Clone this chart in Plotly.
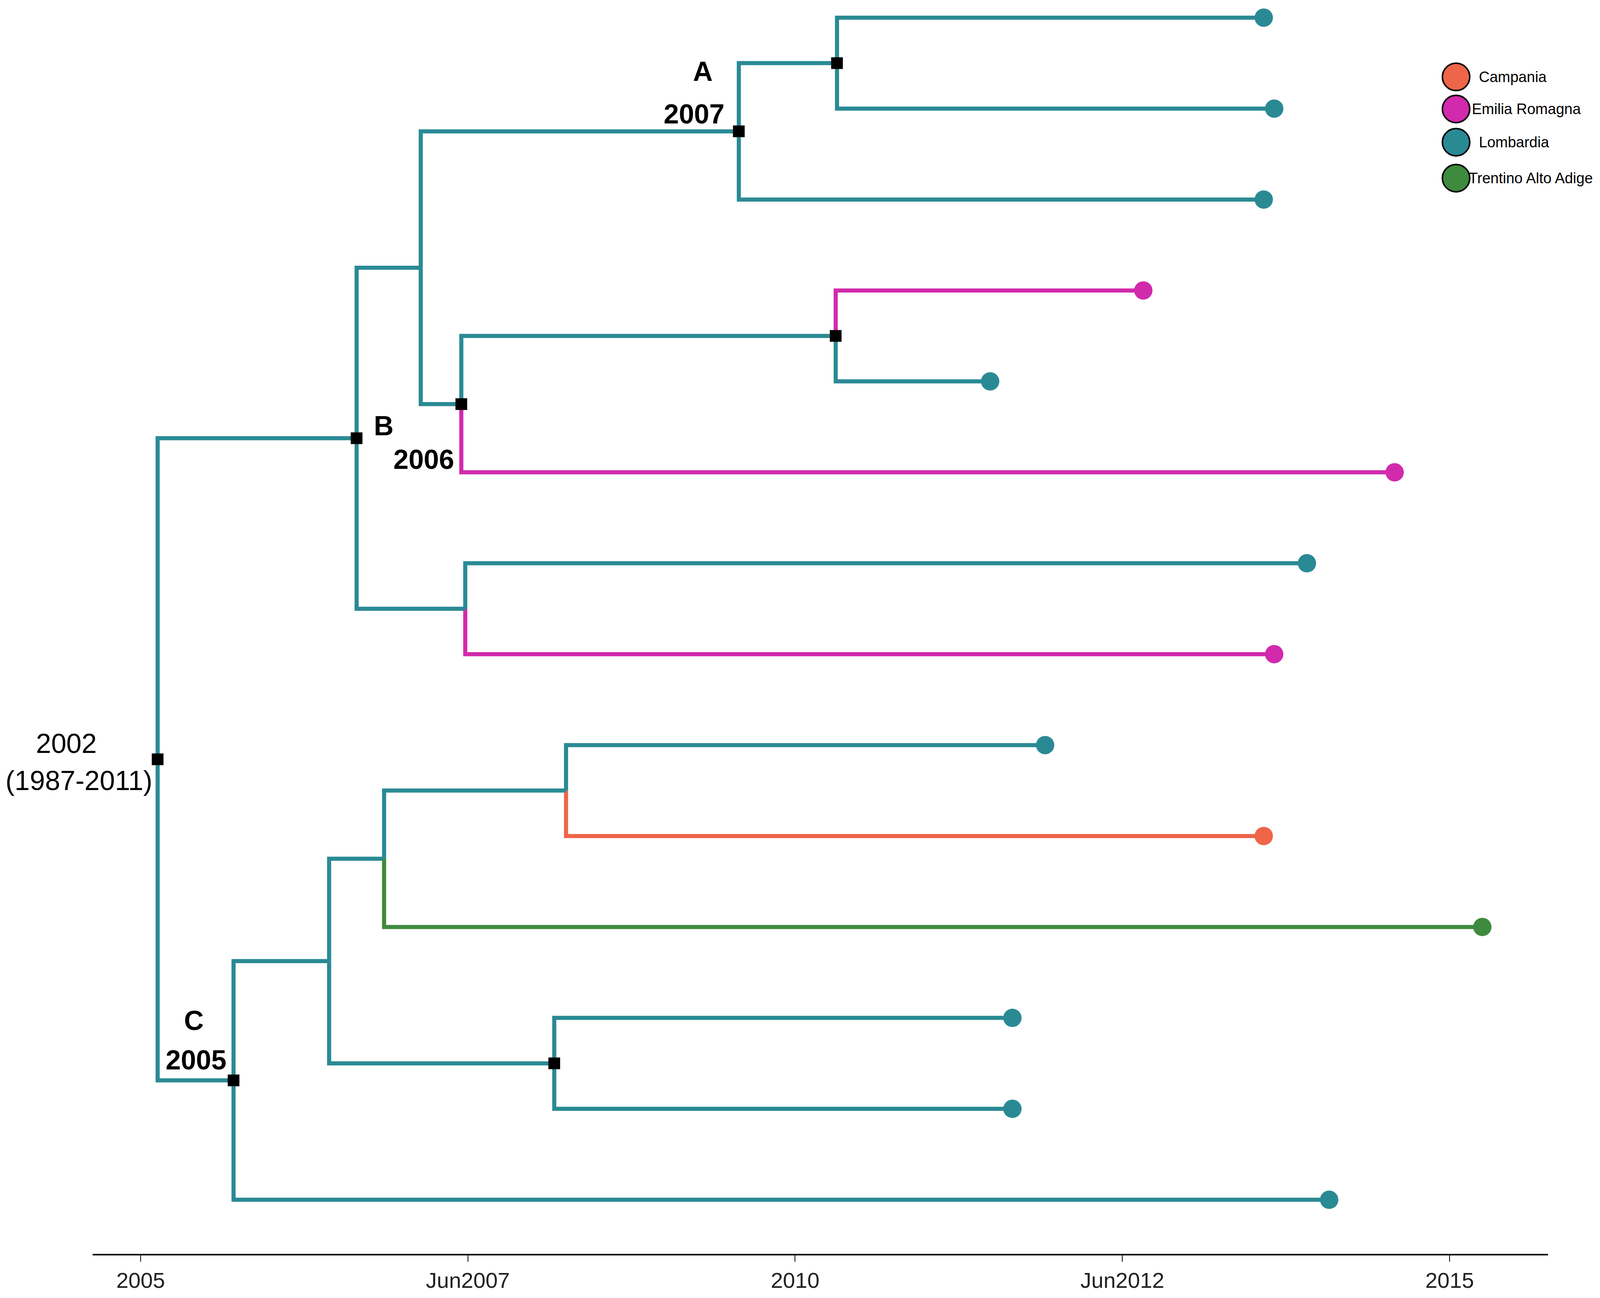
import plotly.graph_objects as go

# --- tips, top to bottom ---
tip_names = [f"t{i}" for i in range(1, 15)]
tip_dates = [2013.58, 2013.66, 2013.58, 2012.66, 2011.49, 2014.58, 2013.91,
             2013.66, 2011.91, 2013.58, 2015.25, 2011.66, 2011.66, 2014.08]
tip_regions = ["Lombardia", "Lombardia", "Lombardia", "Emilia Romagna", "Lombardia",
               "Emilia Romagna", "Lombardia", "Emilia Romagna", "Lombardia", "Campania",
               "Trentino Alto Adige", "Lombardia", "Lombardia", "Lombardia"]

# --- internal nodes (all inferred Lombardia) ---
node_names = ["root", "B", "n3", "A", "n5", "n6", "n7", "n8", "C", "n10", "n11", "n12", "n13"]
node_dates = [2005.13, 2006.65, 2007.14, 2009.57, 2010.32, 2007.45, 2010.31,
              2007.48, 2005.71, 2006.44, 2006.86, 2008.25, 2008.16]
node_children = [["B", "C"], ["n3", "n8"], ["A", "n6"], ["n5", "t3"], ["t1", "t2"],
                 ["n7", "t6"], ["t4", "t5"], ["t7", "t8"], ["n10", "t14"],
                 ["n11", "n13"], ["n12", "t11"], ["t9", "t10"], ["t12", "t13"]]
node_supported = [True, True, False, True, True, True, True, False, True,
                  False, False, False, True]

regions = ["Campania", "Emilia Romagna", "Lombardia", "Trentino Alto Adige"]
region_colors = ["#EE6548", "#D12AAC", "#2A8A94", "#3E8B3E"]

# node labels
label_nodes = ["root", "A", "B", "C"]
label_top = ["2002", "A", "B", "C"]
label_bottom = ["(1987-2011)", "2007", "2006", "2005"]

tick_vals = [2005, 2007.5, 2010, 2012.5, 2015]
tick_text = ["2005", "Jun2007", "2010", "Jun2012", "2015"]

color_of = dict(zip(regions, region_colors))

# page size (browser viewport is 4096 wide) and scale from the 4550x3322 reference
W, H = 4080, 3300
sx, sy = W / 4550, H / 3322
ml, mr, mt, mb = round(255 * sx), round(139 * sx), 0, round(85 * sy)
pw, ph = W - ml - mr, H - mt - mb

# ---- layout of the tree ----
date = dict(zip(tip_names, tip_dates))
date.update(zip(node_names, node_dates))
region = dict(zip(tip_names, tip_regions))
region.update({n: "Lombardia" for n in node_names})
kids = dict(zip(node_names, node_children))
ypos = {t: len(tip_names) - i for i, t in enumerate(tip_names)}


def get_y(n):
    if n not in ypos:
        ypos[n] = sum(get_y(c) for c in kids[n]) / len(kids[n])
    return ypos[n]


get_y("root")

seg = {r: ([], []) for r in regions}
for parent, children in kids.items():
    for c in children:
        xs, ys = seg[region[c]]
        xs += [date[parent], date[parent], date[c], None]
        ys += [ypos[parent], ypos[c], ypos[c], None]

fig = go.Figure()

for r in regions:
    xs, ys = seg[r]
    if xs:
        fig.add_trace(go.Scatter(x=xs, y=ys, mode="lines", showlegend=False,
                                 line=dict(color=color_of[r], width=10.5),
                                 hoverinfo="skip"))

sup = [n for n, s in zip(node_names, node_supported) if s]
fig.add_trace(go.Scatter(
    x=[date[n] for n in sup], y=[ypos[n] for n in sup], mode="markers",
    marker=dict(symbol="square", size=30, color="black"), showlegend=False))

fig.add_trace(go.Scatter(
    x=tip_dates, y=[ypos[t] for t in tip_names], mode="markers",
    marker=dict(size=47, color=[color_of[r] for r in tip_regions]), showlegend=False))

# ---- node labels (pixel offsets measured on the reference) ----
offsets = {
    "root": [(-261, 41), (-225, -55)],
    "A": [(-102, 154), (-128, 44)],
    "B": [(78, 32), (192, -55)],
    "C": [(-113, 154), (-107, 52)],
}
for n, top, bottom in zip(label_nodes, label_top, label_bottom):
    bold = n != "root"
    for txt, (dx, dy) in zip([top, bottom], offsets[n]):
        fig.add_annotation(
            x=date[n], y=ypos[n], text=f"<b>{txt}</b>" if bold else txt,
            showarrow=False, xshift=dx * sx, yshift=dy * sy,
            font=dict(size=70, color="black", family="Liberation Sans"))

# ---- legend drawn by hand (big keys) ----
key_x = 4148
key_y = [191, 274, 360, 453]
text_x = [4211, 4191, 4211, 4182]
for r, ky, tx in zip(regions, key_y, text_x):
    yp = 1 - (ky * sy - mt) / ph
    fig.add_shape(type="circle", xref="paper", yref="paper",
                  xsizemode="pixel", ysizemode="pixel",
                  xanchor=(key_x * sx - ml) / pw, yanchor=yp,
                  x0=-35, x1=35, y0=-35, y1=35,
                  fillcolor=color_of[r], line=dict(color="black", width=4))
    fig.add_annotation(xref="paper", yref="paper", x=(tx * sx - ml) / pw, y=yp,
                       xanchor="left", yanchor="middle", text=r, showarrow=False,
                       font=dict(size=38, color="black", family="Liberation Sans"))

fig.update_layout(
    width=W, height=H,
    margin=dict(l=ml, r=mr, t=mt, b=mb),
    plot_bgcolor="white", paper_bgcolor="white",
    xaxis=dict(range=[2004.633, 2015.752], showgrid=False, zeroline=False,
               showline=True, linecolor="black", linewidth=4,
               ticks="outside", ticklen=16, tickwidth=2, tickcolor="black",
               tickvals=tick_vals, ticktext=tick_text,
               tickfont=dict(size=56, color="#222", family="Liberation Sans")),
    yaxis=dict(range=[0.405, 14.16], visible=False),
)

fig.write_html("out.html")
